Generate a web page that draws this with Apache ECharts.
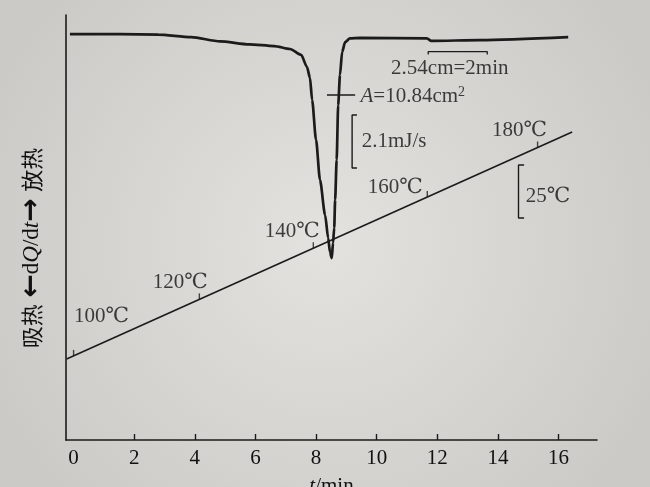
<!DOCTYPE html>
<html>
<head>
<meta charset="utf-8">
<script src="https://cdn.jsdelivr.net/npm/echarts@6/dist/echarts.min.js"></script>
<style>
html,body{margin:0;padding:0;background:#dcdbd7;}
#chart{width:650px;height:487px;}
</style>
</head>
<body>
<div id="chart"></div>
<script>
// x-axis tick values (min)
const timeTicks = [0, 2, 4, 6, 8, 10, 12, 14, 16];
// DSC curve: time (min) and signal (arbitrary plot units, 0-100)
const dscTime   = [-0.12, 1.53, 2.79, 3.88, 4.83, 5.79, 6.62, 7.14, 7.51, 7.70, 7.80, 7.87, 8.00, 8.13, 8.30, 8.40, 8.46, 8.52, 8.56, 8.60, 8.63, 8.68, 8.73, 8.79, 8.86, 8.96, 9.12, 9.45, 11.66, 11.80, 13.41, 16.32];
const dscSignal = [95.5, 95.5, 95.4, 94.8, 93.8, 93.1, 92.7, 92.0, 90.6, 87.8, 85.2, 80.0, 70.6, 61.2, 52.9, 47.5, 44.2, 42.8, 46.4, 49.9, 56.5, 65.9, 78.8, 85.9, 91.3, 93.6, 94.5, 94.6, 94.5, 93.9, 94.1, 94.8];
// programmed temperature line (plot units)
const tempLineTime  = [-0.23, 16.45];
const tempLineLevel = [19.06, 72.47];
// temperature marks on the line
const tempTickTime  = [0.0, 4.15, 7.91, 11.67, 15.31];
const tempTickLevel = [19.79, 33.08, 45.12, 57.16, 68.82];
const tempLabels    = ['100℃', '120℃', '140℃', '160℃', '180℃'];
// annotation texts
const annoTexts = ['2.54cm=2min', '{i|A}=10.84cm{sup|2}', '2.1mJ/s', '25℃'];
const annoTime  = [10.46, 9.45, 9.49, 14.90];
const annoLevel = [87.5, 80.9, 70.2, 57.25];
// scale bars
const timeBarTime = [11.7, 11.7, 13.65, 13.65];
const timeBarLevel = [90.7, 91.36, 91.36, 90.7];
const leaderTime = [8.36, 9.29];
const leaderLevel = [81.18, 81.18];
const heatBarTime = [9.35, 9.19, 9.19, 9.35];
const heatBarLevel = [76.47, 76.47, 64.0, 64.0];
const tempBarTime = [14.865, 14.68, 14.68, 14.865];
const tempBarLevel = [64.7, 64.7, 52.24, 52.24];

// layout of temperature labels relative to their marks (px)
const tempLabelOffsets = [[28, -39], [-19, -17], [-21, -17], [-32, -10], [-18, -17.5]];

const INK = '#1b1b1b';
const TXT = '#111111';
const SERIF = "'Liberation Serif', 'DejaVu Serif', 'Noto Sans CJK SC', serif";
const zip = (a, b) => a.map((v, i) => [v, b[i]]);

function bar(xs, ys, w) {
  return {
    type: 'line', data: zip(xs, ys), showSymbol: false, symbol: 'none',
    lineStyle: {color: INK, width: w || 1.3}, silent: true, z: 3
  };
}

const chart = echarts.init(document.getElementById('chart'), null, {renderer: 'canvas'});
chart.setOption({
  animation: false,
  backgroundColor: {
    type: 'radial', x: 0.5, y: 0.5, r: 0.75,
    colorStops: [{offset: 0, color: '#e3e2de'}, {offset: 1, color: '#cbcac6'}]
  },
  grid: {left: 66, right: 53, top: 15, bottom: 47, outerBoundsMode: 'none', containLabel: false},
  xAxis: {
    type: 'value', min: -0.25, max: 17.27,
    name: '{i|t}/min', nameLocation: 'middle', nameGap: 36,
    nameTextStyle: {fontFamily: SERIF, fontSize: 21, color: TXT,
      rich: {i: {fontFamily: SERIF, fontSize: 21, fontStyle: 'italic', color: TXT}}},
    axisLine: {show: true, onZero: false, lineStyle: {color: INK, width: 1.6}},
    axisTick: {show: true, inside: true, length: 6, lineStyle: {color: INK, width: 1.4},
      customValues: timeTicks.filter(v => v > 0)},
    axisLabel: {show: true, customValues: timeTicks, margin: 8,
      fontFamily: SERIF, fontSize: 21, color: TXT},
    splitLine: {show: false}
  },
  yAxis: {
    type: 'value', min: 0, max: 100,
    axisLine: {show: true, onZero: false, lineStyle: {color: INK, width: 1.6}},
    axisTick: {show: false}, axisLabel: {show: false}, splitLine: {show: false}
  },
  graphic: [{
    type: 'text', x: 32, y: 248, rotation: Math.PI / 2,
    style: {
      text: '{c|吸热}  {a|←}{s|d}{i|Q}{s|/d}{i|t}{a|→}  {c|放热}',
      align: 'center', verticalAlign: 'middle', fill: TXT,
      rich: {
        c: {fontFamily: "'Noto Sans CJK SC', sans-serif", fontSize: 22, fill: TXT},
        a: {fontFamily: "'DejaVu Sans', sans-serif", fontSize: 28, fontWeight: 'bold', fill: TXT},
        s: {fontFamily: SERIF, fontSize: 23, fill: TXT},
        i: {fontFamily: SERIF, fontSize: 23, fontStyle: 'italic', fill: TXT}
      }
    }
  }],
  series: [
    {
      name: 'DSC', type: 'line', data: zip(dscTime, dscSignal),
      showSymbol: false, symbol: 'none', smooth: 0.25, smoothMonotone: 'x',
      lineStyle: {color: INK, width: 2.7}, z: 4
    },
    {
      name: 'T', type: 'line', data: zip(tempLineTime, tempLineLevel),
      showSymbol: false, symbol: 'none',
      lineStyle: {color: INK, width: 1.6}, z: 3
    },
    {
      name: 'Tticks', type: 'scatter', data: zip(tempTickTime, tempTickLevel),
      symbol: 'rect', symbolSize: [1.4, 6], symbolOffset: [0, -3],
      itemStyle: {color: INK}, z: 3
    },
    {
      name: 'Tlabels', type: 'scatter',
      data: tempTickTime.map((t, i) => ({
        value: [t, tempTickLevel[i]],
        label: {offset: tempLabelOffsets[i], formatter: tempLabels[i]}
      })),
      symbolSize: 1, itemStyle: {color: 'rgba(0,0,0,0)'},
      label: {show: true, position: 'inside', align: 'center', verticalAlign: 'middle',
        fontFamily: SERIF, fontSize: 21, color: TXT}, z: 5
    },
    {
      name: 'anno', type: 'scatter',
      data: annoTime.map((t, i) => ({value: [t, annoLevel[i]], label: {formatter: annoTexts[i]}})),
      symbolSize: 1, itemStyle: {color: 'rgba(0,0,0,0)'},
      label: {show: true, position: 'right', distance: 0,
        fontFamily: SERIF, fontSize: 21, color: TXT,
        rich: {
          i: {fontFamily: SERIF, fontSize: 21, fontStyle: 'italic', color: TXT},
          sup: {fontFamily: SERIF, fontSize: 14, color: TXT, verticalAlign: 'top', padding: [0, 0, 8, 0]}
        }}, z: 5
    },
    bar(timeBarTime, timeBarLevel, 1.3),
    bar(leaderTime, leaderLevel, 1.3),
    bar(heatBarTime, heatBarLevel, 1.4),
    bar(tempBarTime, tempBarLevel, 1.4)
  ]
});
</script>
</body>
</html>
